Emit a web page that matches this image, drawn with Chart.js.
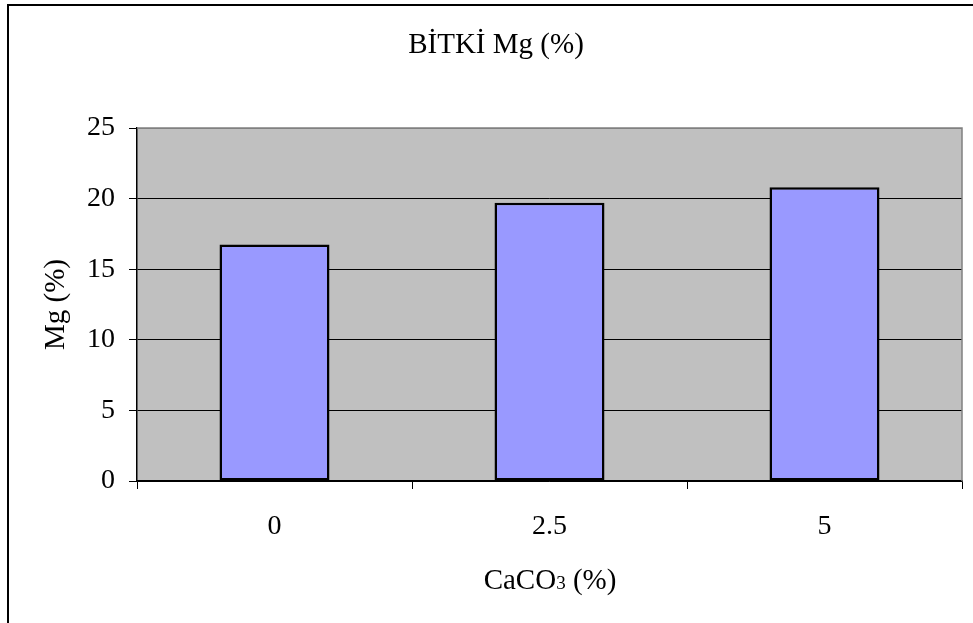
<!DOCTYPE html>
<html lang="tr">
<head>
    <meta charset="UTF-8">
    <title>BİTKİ Mg (%)</title>
    <script src="https://cdn.jsdelivr.net/npm/chart.js"></script>
    <style>
        html, body { margin: 0; padding: 0; background: #ffffff; }
        #wrap { width: 973px; height: 623px; position: relative; }
    </style>
</head>
<body>
    <div id="wrap"><canvas id="mg-chart"></canvas></div>
    <script>
        // data
        const categories = ['0', '2.5', '5'];
        const mgValues = [16.75, 19.7, 20.8];
        const yTicks = [0, 5, 10, 15, 20, 25];

        const chartTitle = 'BİTKİ Mg (%)';
        const xTitleParts = ['CaCO', '3', ' (%)'];   // small "3" on the baseline, like the original
        const yTitle = 'Mg (%)';

        const serif = "'Liberation Serif', 'Times New Roman', serif";

        // grey plot background, outer frame, top/right plot border, titles
        const plotBox = {
            id: 'plotBox',
            beforeDraw(chart) {
                const { ctx, chartArea: a } = chart;
                ctx.save();
                ctx.fillStyle = '#ffffff';
                ctx.fillRect(0, 0, chart.width, chart.height);
                ctx.fillStyle = '#c0c0c0';
                ctx.fillRect(a.left, a.top, a.right - a.left, a.bottom - a.top);
                ctx.strokeStyle = '#000000';
                ctx.lineWidth = 2;
                ctx.strokeRect(8, 5, chart.width + 10, chart.height + 10);
                ctx.restore();
            },
            beforeDatasetsDraw(chart) {
                const { ctx, chartArea: a } = chart;
                ctx.save();
                ctx.strokeStyle = '#808080';
                ctx.lineWidth = 1.5;
                ctx.beginPath();
                ctx.moveTo(a.left, a.top);
                ctx.lineTo(a.right, a.top);
                ctx.lineTo(a.right, a.bottom);
                ctx.stroke();
                ctx.restore();
            },
            afterDraw(chart) {
                const ctx = chart.ctx;
                ctx.save();
                ctx.fillStyle = '#000000';
                ctx.textBaseline = 'alphabetic';

                // chart title
                ctx.font = '29px ' + serif;
                ctx.textAlign = 'center';
                ctx.fillText(chartTitle, 496, 53);

                // x axis title with a small "3"
                ctx.textAlign = 'left';
                const big = '29px ' + serif, small = '19px ' + serif;
                const fonts = [big, small, big];
                let total = 0;
                const widths = xTitleParts.map((t, i) => {
                    ctx.font = fonts[i];
                    const w = ctx.measureText(t).width;
                    total += w;
                    return w;
                });
                let x = 550 - total / 2;
                xTitleParts.forEach((t, i) => {
                    ctx.font = fonts[i];
                    ctx.fillText(t, x, 589);
                    x += widths[i];
                });
                ctx.restore();
            }
        };

        const ctx = document.getElementById('mg-chart').getContext('2d');
        new Chart(ctx, {
            type: 'bar',
            data: {
                labels: categories,
                datasets: [{
                    label: yTitle,
                    data: mgValues,
                    backgroundColor: '#9999ff',
                    borderColor: '#000000',
                    borderWidth: 2.5,
                    borderSkipped: false,
                    barPercentage: 0.4,
                    categoryPercentage: 1
                }]
            },
            options: {
                responsive: true,
                maintainAspectRatio: false,
                animation: false,
                layout: { padding: { top: 128, right: 11, bottom: 0, left: 0 } },
                plugins: {
                    legend: { display: false },
                    tooltip: { enabled: false },
                    title: { display: false }
                },
                scales: {
                    x: {
                        offset: true,
                        afterFit(scale) { scale.height = 142; },
                        grid: {
                            offset: true,
                            drawOnChartArea: false,
                            color: '#000000',
                            tickLength: 8
                        },
                        border: { color: '#000000', width: 1.5 },
                        ticks: {
                            color: '#000000',
                            padding: 21,
                            font: { family: serif, size: 28 }
                        },
                        title: { display: false }
                    },
                    y: {
                        min: 0,
                        max: 25,
                        afterFit(scale) { scale.width = 137; },
                        afterBuildTicks(scale) {
                            scale.ticks = yTicks.map(v => ({ value: v }));
                        },
                        grid: {
                            color: c => (c.tick && c.tick.value === 25) ? '#808080' : '#000000',
                            tickColor: '#000000',
                            lineWidth: 1,
                            tickLength: 8
                        },
                        border: { color: '#000000', width: 1.5 },
                        ticks: {
                            color: '#000000',
                            padding: 14,
                            font: { family: serif, size: 28 }
                        },
                        title: {
                            display: true,
                            text: yTitle,
                            color: '#000000',
                            font: { family: serif, size: 29 },
                            padding: { top: 39, bottom: 0 }
                        }
                    }
                }
            },
            plugins: [plotBox]
        });
    </script>
</body>
</html>
